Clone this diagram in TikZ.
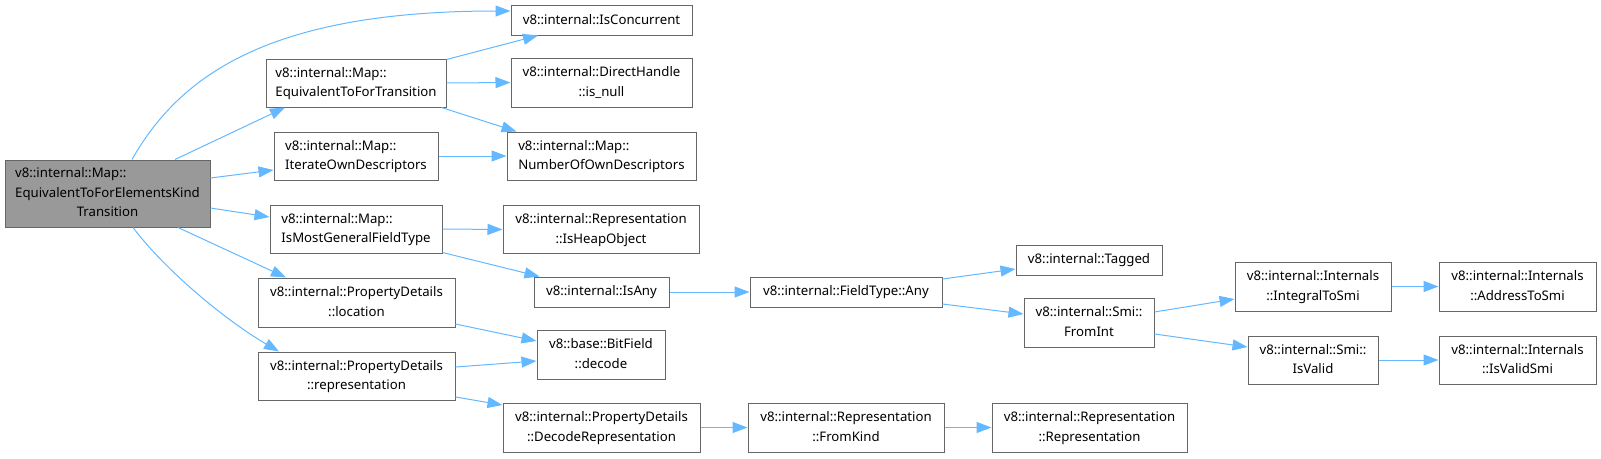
\documentclass[tikz,border=0pt]{standalone}
\usepackage{fontspec}
\setmainfont{Noto Sans}
\usetikzlibrary{arrows.meta}
\definecolor{edgec}{HTML}{63B8FF}
\definecolor{boxc}{HTML}{666666}
\definecolor{rootc}{HTML}{999999}
\newcommand\Ln[1]{\multicolumn{1}{@{}l@{}}{#1}}
\newcommand\Tx[1]{\begin{tabular}{@{}c@{}}#1\end{tabular}}
\begin{document}
\begin{tikzpicture}[x=1pt,y=-1pt,
  box/.style={draw=boxc, line width=1pt, fill=white, inner sep=0pt, font=\fontsize{13.2}{19.5}\selectfont},
  rootbox/.style={box, fill=rootc},
  edge/.style={draw=edgec, line width=1pt, -{Triangle[length=15pt,width=11pt]}}]
\useasboundingbox (0,0) rectangle (1601,458);
% nodes
\node[rootbox, minimum width=205pt, minimum height=67pt] (root) at (107.5,193.5) {\Tx{\Ln{v8::internal::Map::}\\\Ln{EquivalentToForElementsKind}\\Transition}};
\node[box, minimum width=180pt, minimum height=48pt] (eqt) at (356,83) {\Tx{\Ln{v8::internal::Map::}\\EquivalentToForTransition}};
\node[box, minimum width=164pt, minimum height=48pt] (iod) at (356,156) {\Tx{\Ln{v8::internal::Map::}\\IterateOwnDescriptors}};
\node[box, minimum width=172pt, minimum height=48pt] (imgft) at (356,229) {\Tx{\Ln{v8::internal::Map::}\\IsMostGeneralFieldType}};
\node[box, minimum width=197pt, minimum height=49pt] (loc) at (356.5,302.5) {\Tx{\Ln{v8::internal::PropertyDetails}\\::location}};
\node[box, minimum width=197pt, minimum height=48pt] (rep) at (356.5,376) {\Tx{\Ln{v8::internal::PropertyDetails}\\::representation}};
\node[box, minimum width=181pt, minimum height=30pt] (conc) at (601.5,20) {v8::internal::IsConcurrent};
\node[box, minimum width=181pt, minimum height=49pt] (dh) at (601.5,82.5) {\Tx{\Ln{v8::internal::DirectHandle}\\::is\_null}};
\node[box, minimum width=189pt, minimum height=48pt] (nood) at (601.5,156) {\Tx{\Ln{v8::internal::Map::}\\NumberOfOwnDescriptors}};
\node[box, minimum width=196pt, minimum height=48pt] (iho) at (601,229.5) {\Tx{\Ln{v8::internal::Representation}\\::IsHeapObject}};
\node[box, minimum width=135pt, minimum height=30pt] (isany) at (601.5,292) {v8::internal::IsAny};
\node[box, minimum width=128pt, minimum height=49pt] (bfd) at (601,354.5) {\Tx{\Ln{v8::base::BitField}\\::decode}};
\node[box, minimum width=197pt, minimum height=49pt] (decrep) at (601.5,427.5) {\Tx{\Ln{v8::internal::PropertyDetails}\\::DecodeRepresentation}};
\node[box, minimum width=192pt, minimum height=30pt] (ftany) at (846,292) {v8::internal::FieldType::Any};
\node[box, minimum width=196pt, minimum height=49pt] (fromkind) at (846,427.5) {\Tx{\Ln{v8::internal::Representation}\\::FromKind}};
\node[box, minimum width=146pt, minimum height=30pt] (tagged) at (1089,260) {v8::internal::Tagged};
\node[box, minimum width=130pt, minimum height=49pt] (fromint) at (1089,322.5) {\Tx{\Ln{v8::internal::Smi::}\\FromInt}};
\node[box, minimum width=195pt, minimum height=49pt] (reprep) at (1089.5,427.5) {\Tx{\Ln{v8::internal::Representation}\\::Representation}};
\node[box, minimum width=156pt, minimum height=49pt] (i2smi) at (1313,286.5) {\Tx{\Ln{v8::internal::Internals}\\::IntegralToSmi}};
\node[box, minimum width=130pt, minimum height=48pt] (isvalid) at (1313,360) {\Tx{\Ln{v8::internal::Smi::}\\IsValid}};
\node[box, minimum width=157pt, minimum height=49pt] (a2smi) at (1517.5,286.5) {\Tx{\Ln{v8::internal::Internals}\\::AddressToSmi}};
\node[box, minimum width=157pt, minimum height=48pt] (ivsmi) at (1517.5,360) {\Tx{\Ln{v8::internal::Internals}\\::IsValidSmi}};
% edges
\draw[edge] ([xshift=24.5pt]root.north) .. controls (180,75) and (270,11) .. ([yshift=9pt]conc.west);
\draw[edge] ([xshift=67.5pt]root.north) -- ([xshift=-71pt]eqt.south);
\draw[edge] ([yshift=15.5pt]root.east) -- ([yshift=-14pt]iod.west);
\draw[edge] ([yshift=-14.5pt]root.east) -- ([yshift=12pt]imgft.west);
\draw[edge] ([xshift=70.5pt]root.south) -- ([xshift=-70.5pt]loc.north);
\draw[edge] ([xshift=25.5pt]root.south) .. controls (165,270) and (225,320) .. ([xshift=-77.5pt]rep.north);
\draw[edge] ([yshift=-1pt]eqt.north east) -- ([xshift=-63.5pt]conc.south);
\draw[edge] (eqt.east) -- (dh.west);
\draw[edge] ([xshift=-5pt]eqt.south east) -- ([xshift=10pt]nood.north west);
\draw[edge] (iod.east) -- (nood.west);
\draw[edge] (imgft.east) -- (iho.west);
\draw[edge] ([yshift=1pt]imgft.south east) -- ([xshift=6pt]isany.north west);
\draw[edge] ([yshift=-21.5pt]loc.east) -- ([yshift=13.5pt]bfd.west);
\draw[edge] ([yshift=9pt]rep.east) -- ([yshift=-6.5pt]bfd.west);
\draw[edge] ([yshift=-21pt]rep.east) -- ([yshift=22.5pt]decrep.west);
\draw[edge] (isany.east) -- (ftany.west);
\draw[edge] ([yshift=13pt]ftany.east) -- ([yshift=-9pt]tagged.west);
\draw[edge] ([yshift=-12pt]ftany.east) -- ([yshift=8.5pt]fromint.west);
\draw[edge] ([yshift=10.5pt]fromint.east) -- ([yshift=-12.5pt]i2smi.west);
\draw[edge] ([yshift=-11.5pt]fromint.east) -- ([yshift=13pt]isvalid.west);
\draw[edge] (i2smi.east) -- (a2smi.west);
\draw[edge] (isvalid.east) -- (ivsmi.west);
\draw[edge] (decrep.east) -- (fromkind.west);
\draw[edge] (fromkind.east) -- (reprep.west);
\end{tikzpicture}
\end{document}
